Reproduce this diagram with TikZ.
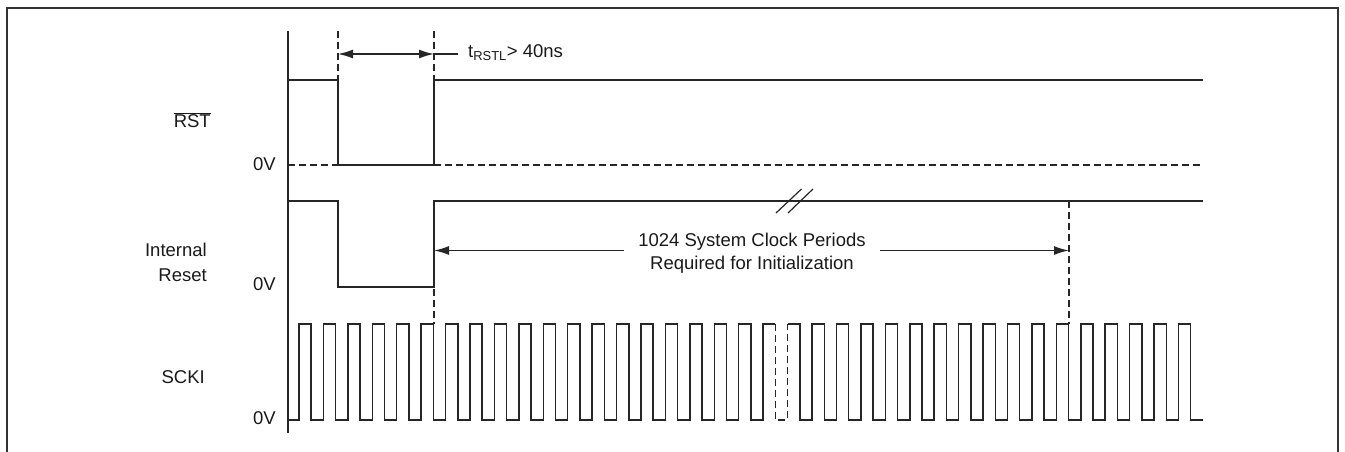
\documentclass[tikz,border=0pt]{standalone}
\usepackage{fontspec}
\setmainfont{Liberation Sans}
\usetikzlibrary{arrows.meta}

\newcommand{\clkper}{24.43}

\begin{document}
\begin{tikzpicture}[
    x=1pt, y=-1pt,
    sig/.style={draw=black!85, line width=1.5pt},
    guide/.style={draw=black!85, line width=1.5pt, dash pattern=on 7pt off 4pt},
    frame/.style={draw=black!80, line width=2.4pt},
    lbl/.style={inner sep=0pt, text=black!90, font=\fontsize{18.5}{25}\selectfont},
    >={Latex[length=15pt,width=9pt]},
]
    \useasboundingbox (0,0) rectangle (1345,452);
    % frame and time axis
    \draw[frame] (7,452) -- (7,8) -- (1338,8) -- (1338,452);
    \draw[sig] (288,31) -- (288,433);

    % signal names
    \node[lbl, anchor=base east]           (rstname) at (211,127.5) {$\overline{\mbox{RST}}$};
    \node[lbl, anchor=east, align=right]   (irname)  at (207,262.5) {Internal\\Reset};
    \node[lbl, anchor=east]                (sckname) at (205,377)   {SCKI};
    \node[lbl, anchor=east]                (zeroa)   at (276,164)   {0V};
    \node[lbl, anchor=east]                (zerob)   at (276,284)   {0V};
    \node[lbl, anchor=east]                (zeroc)   at (276,418.5) {0V};

    % RST
    \coordinate (rA) at (338,80);
    \coordinate (rB) at (434,80);
    \draw[sig] (288,80) -- (rA) -- (338,165) -- (434,165) -- (rB) -- (1203,80);
    \draw[guide] (288,165) -- (338,165);
    \draw[guide] (434,165) -- (1203,165);
    \draw[guide] (338,31) -- (rA);
    \draw[guide] (434,31) -- (rB);

    % t_RSTL
    \coordinate (tA) at (338,54);
    \coordinate (tB) at (434,54);
    \draw[sig, <->] (tA) -- (tB);
    \node[lbl, anchor=base west, inner xsep=10pt] (trstl) at (458,57.5) {t\textsubscript{RSTL}> 40ns};
    \draw[sig] (tB) -- (tB -| trstl.west);

    % Internal Reset
    \coordinate (iUp) at (434,201);
    \coordinate (iEnd) at (1069,201);
    \draw[sig] (288,201) -- (338,201) -- (338,287) -- (434,287) -- (iUp) -- (1203,201);
    \draw[sig, line width=1.2pt] (776,213) -- (801.5,189) (788,213) -- (813,189);
    \draw[guide] (iUp) -- (434,324);
    \draw[guide] (iEnd) -- (1069,324);

    \node[lbl, align=center, inner xsep=14pt, font=\fontsize{18.5}{22.6}\selectfont] (initlbl) at (752,253)
        {1024 System Clock Periods\\Required for Initialization};
    \coordinate (iA) at (434,250.5);
    \coordinate (iB) at (1069,250.5);
    \draw[sig, ->] (iA -| initlbl.west) -- (iA);
    \draw[sig, ->] (iB -| initlbl.east) -- (iB);

    % SCKI
    \draw[sig] (288,420) foreach \k in {0,...,18} {
        -- ({299+\clkper*\k},420) -- ++(0,-96) -- ++({\clkper/2},0) -- ++(0,96)}
        -- ({299+\clkper*19},420) -- ++(0,-96) -- ++({\clkper/2},0) coordinate (cA);
    \draw[guide] (cA) -- ++(0,96) -- ++({\clkper/2},0) -- ++(0,-96) coordinate (cB);
    \draw[sig] (cB) -- ++({\clkper/2},0) -- ++(0,96) foreach \k in {21,...,36} {
        -- ({299+\clkper*\k},420) -- ++(0,-96) -- ++({\clkper/2},0) -- ++(0,96)}
        -- (1203,420);
\end{tikzpicture}
\end{document}
